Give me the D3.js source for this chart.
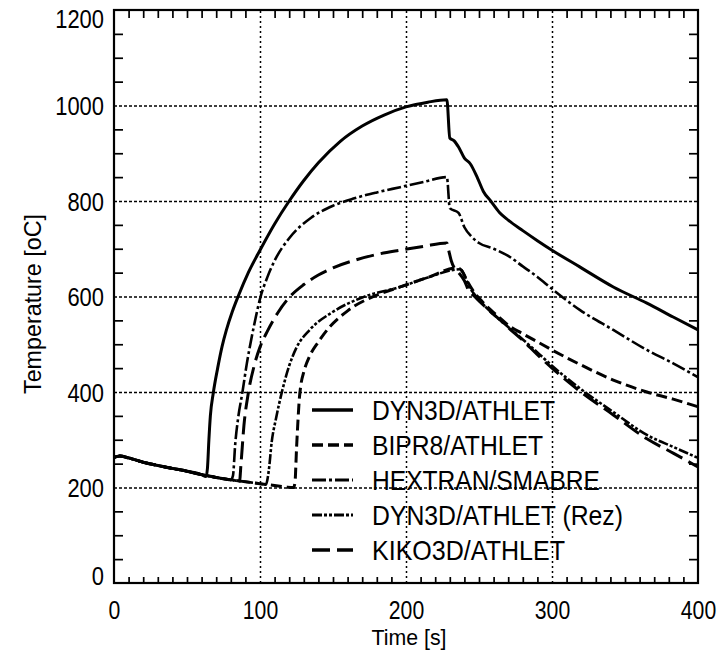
<!DOCTYPE html>
<html>
<head>
<meta charset="utf-8">
<script src="https://cdn.jsdelivr.net/npm/d3@7"></script>
<style>
  body { margin: 0; background: #fff; }
  svg { display: block; font-family: "Liberation Sans", Arial, sans-serif; }
</style>
</head>
<body>
<svg id="chart" width="723" height="651"></svg>
<script>
// tick values
const xTicks = [0, 100, 200, 300, 400];
const yTicks = [0, 200, 400, 600, 800, 1000, 1200];

const seriesNames = ["DYN3D/ATHLET", "BIPR8/ATHLET", "HEXTRAN/SMABRE", "DYN3D/ATHLET (Rez)", "KIKO3D/ATHLET"];

// common part before the power excursion
const baseTime = [0, 4, 10, 20, 30, 40, 50, 60];
const baseTemp = [263, 266, 262, 253, 246, 240, 234, 227];

const dyn3dTime = [63, 64, 65, 66, 68, 71, 74, 77, 81, 85, 92, 100, 110, 120, 130, 140, 155, 170, 185, 200, 215, 228, 230, 233, 236, 240, 244, 249, 253, 258, 264, 270, 280, 290, 300, 319, 342, 365, 383, 400];
const dyn3dTemp = [223, 240, 300, 350, 398, 450, 495, 530, 568, 600, 650, 697, 752, 800, 843, 880, 925, 957, 980, 997, 1007, 1012, 932, 926, 913, 890, 878, 848, 820, 800, 776, 760, 738, 717, 697, 662, 620, 586, 557, 530];

const bipr8Time = [70, 80, 90, 100, 110, 118, 123, 124, 125, 126, 127, 128, 130, 134, 140, 146, 160, 180, 196, 215, 235, 238, 242, 246, 252, 258, 264, 270, 280, 290, 300, 319, 342, 365, 383, 400];
const bipr8Temp = [221, 216, 212, 208, 204, 201, 200, 212, 280, 340, 388, 415, 442, 475, 505, 530, 570, 603, 620, 640, 660, 655, 632, 612, 590, 572, 556, 540, 522, 505, 488, 458, 425, 400, 385, 369];

const hextranTime = [70, 80, 81.5, 83, 85, 88, 91, 94, 97, 100, 105, 110, 120, 135, 150, 164, 180, 196, 212, 228, 230, 236, 240, 245, 250, 260, 270, 280, 290, 300, 319, 342, 365, 383, 400];
const hextranTemp = [221, 216, 225, 290, 345, 400, 460, 510, 555, 595, 640, 675, 722, 765, 790, 805, 818, 829, 840, 850, 785, 775, 745, 725, 712, 700, 685, 663, 641, 616, 572, 530, 488, 460, 431];

const rezTime = [70, 80, 90, 100, 104, 106, 108, 111, 115, 120, 125, 134, 150, 170, 196, 215, 237, 240, 243, 247, 252, 258, 264, 270, 280, 290, 300, 319, 342, 365, 383, 400];
const rezTemp = [221, 216, 212, 208, 206, 235, 295, 345, 400, 455, 493, 530, 568, 598, 620, 640, 657, 645, 622, 604, 586, 568, 552, 536, 510, 483, 455, 408, 358, 310, 285, 262];

const kikoTime = [70, 80, 86, 87, 89, 92, 96, 100, 105, 112, 120, 130, 140, 150, 165, 180, 196, 212, 228, 229, 231, 233, 236, 240, 243, 247, 252, 258, 264, 270, 280, 290, 300, 319, 342, 365, 383, 400];
const kikoTemp = [221, 216, 214, 250, 330, 398, 455, 494, 527, 565, 598, 625, 645, 660, 676, 688, 697, 705, 712, 700, 675, 660, 650, 633, 612, 600, 585, 568, 552, 535, 508, 478, 450, 402, 352, 302, 272, 243];

// build point lists
function pts(t, v) {
    const tt = baseTime.concat(t), vv = baseTemp.concat(v);
    return tt.map((d, i) => ({ t: d, v: vv[i] }));
}

const series = [
    { name: seriesNames[0], data: pts(dyn3dTime, dyn3dTemp), dash: null, w: 3 },
    { name: seriesNames[1], data: pts(bipr8Time, bipr8Temp), dash: "11,5", w: 3 },
    { name: seriesNames[2], data: pts(hextranTime, hextranTemp), dash: "14,3,3,3", w: 2.6 },
    { name: seriesNames[3], data: pts(rezTime, rezTemp), dash: "10,2,3,2,3,2", w: 2.6 },
    { name: seriesNames[4], data: pts(kikoTime, kikoTemp), dash: "18,7", w: 3 }
];

const margin = { top: 10, right: 25, bottom: 68, left: 114 };
const width = 723 - margin.left - margin.right;
const height = 651 - margin.top - margin.bottom;

const svg = d3.select("#chart");
const g = svg.append("g").attr("transform", `translate(${margin.left},${margin.top})`);

const x = d3.scaleLinear().domain([0, 400]).range([0, width]);
const y = d3.scaleLinear().domain([0, 1200]).range([height, 0]);

// dotted grid
g.append("g")
    .attr("class", "grid")
    .attr("transform", `translate(0,${height})`)
    .call(d3.axisBottom(x).tickValues([100, 200, 300]).tickSize(-height).tickFormat(""))
    .call(s => s.select(".domain").remove())
    .selectAll("line").attr("stroke", "#000").attr("stroke-width", 1.5).attr("stroke-dasharray", "2,3");

g.append("g")
    .attr("class", "grid")
    .call(d3.axisLeft(y).tickValues([200, 400, 600, 800, 1000]).tickSize(-width).tickFormat(""))
    .call(s => s.select(".domain").remove())
    .selectAll("line").attr("stroke", "#000").attr("stroke-width", 1.5).attr("stroke-dasharray", "3,2");

// minor ticks on all four sides, pointing inwards
const xMinor = d3.range(10, 400, 10).filter(d => d % 100 !== 0);
const yMinor = d3.range(50, 1200, 50).filter(d => d % 200 !== 0);

function minor(sel) {
    sel.select(".domain").remove();
    sel.selectAll("line").attr("stroke", "#000").attr("stroke-width", 1.7);
}
g.append("g").attr("transform", `translate(0,${height})`)
    .call(d3.axisBottom(x).tickValues(xMinor).tickSize(-6).tickFormat("")).call(minor);
g.append("g")
    .call(d3.axisTop(x).tickValues(xMinor).tickSize(-8).tickFormat("")).call(minor);
g.append("g")
    .call(d3.axisLeft(y).tickValues(yMinor).tickSize(-9).tickFormat("")).call(minor);
g.append("g").attr("transform", `translate(${width},0)`)
    .call(d3.axisRight(y).tickValues(yMinor).tickSize(-9).tickFormat("")).call(minor);

// frame
g.append("rect")
    .attr("x", 0).attr("y", 0)
    .attr("width", width).attr("height", height)
    .attr("fill", "none").attr("stroke", "#000").attr("stroke-width", 2.2);

// tick labels
const xAxis = g.append("g").attr("transform", `translate(0,${height})`)
    .call(d3.axisBottom(x).tickValues(xTicks).tickSize(0).tickFormat(d3.format("d")));
xAxis.select(".domain").remove();
xAxis.selectAll("text")
    .attr("y", 36).attr("dy", null)
    .attr("font-size", 25).attr("fill", "#000")
    .attr("textLength", d => String(d).length * 11.8)
    .attr("lengthAdjust", "spacingAndGlyphs");

const yAxis = g.append("g")
    .call(d3.axisLeft(y).tickValues(yTicks).tickSize(0).tickPadding(10).tickFormat(d3.format("d")));
yAxis.select(".domain").remove();
yAxis.selectAll("text")
    .attr("font-size", 25).attr("fill", "#000")
    .attr("dy", d => d === 1200 ? "0.7em" : d === 0 ? "0.05em" : "0.36em")
    .attr("textLength", d => String(d).length * 12.2)
    .attr("lengthAdjust", "spacingAndGlyphs");

// axis titles
svg.append("text")
    .attr("transform", "translate(41,304) rotate(-90)")
    .attr("text-anchor", "middle")
    .attr("font-size", 24)
    .attr("textLength", 180).attr("lengthAdjust", "spacingAndGlyphs")
    .text("Temperature [oC]");

svg.append("text")
    .attr("x", 409).attr("y", 645)
    .attr("text-anchor", "middle")
    .attr("font-size", 22)
    .attr("textLength", 75).attr("lengthAdjust", "spacingAndGlyphs")
    .text("Time [s]");

// curves
const line = d3.line()
    .x(d => x(d.t))
    .y(d => y(d.v))
    .curve(d3.curveMonotoneX);

g.selectAll(".curve")
    .data(series)
    .enter().append("path")
    .attr("class", "curve")
    .attr("d", d => line(d.data))
    .attr("fill", "none")
    .attr("stroke", "#000")
    .attr("stroke-width", d => d.w)
    .attr("stroke-dasharray", d => d.dash);

// legend
const legendWidths = [183, 171, 228, 251, 193];
const legend = svg.append("g").attr("transform", "translate(312,410)");
const rows = legend.selectAll(".row")
    .data(series)
    .enter().append("g")
    .attr("class", "row")
    .attr("transform", (d, i) => `translate(0,${i * 35})`);

rows.append("line")
    .attr("x1", 0).attr("x2", 41)
    .attr("stroke", "#000")
    .attr("stroke-width", d => d.w + 0.4)
    .attr("stroke-dasharray", d => d.dash);

rows.append("text")
    .attr("x", 60).attr("y", 0).attr("dy", "0.36em")
    .attr("font-size", 28)
    .attr("textLength", (d, i) => legendWidths[i])
    .attr("lengthAdjust", "spacingAndGlyphs")
    .text(d => d.name);
</script>
</body>
</html>
